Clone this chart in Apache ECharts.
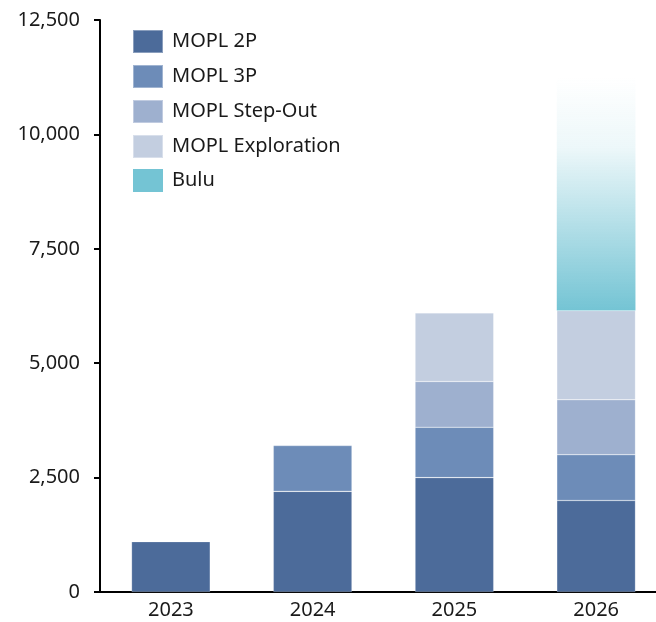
<!DOCTYPE html>
<html><head><meta charset="utf-8">
<script src="https://cdn.jsdelivr.net/npm/echarts@6/dist/echarts.min.js"></script>
<style>html,body{margin:0;padding:0;background:#fff}#c{width:656px;height:622px}</style>
</head><body><div id="c"></div>
<script>
const categories = ['2023', '2024', '2025', '2026'];
const mopl2P = [1100, 2200, 2500, 2000];
const mopl3P = [null, 1000, 1100, 1000];
const moplStepOut = [null, null, 1000, 1200];
const moplExploration = [null, null, 1500, 1950];
const bulu = [null, null, null, 5100];
const seriesNames = ['MOPL 2P', 'MOPL 3P', 'MOPL Step-Out', 'MOPL Exploration', 'Bulu'];

const colors = ['#4c6b9a', '#6d8cb8', '#9eb0cf', '#c3cee0', '#74c4d4'];
const font = 'Noto Sans';
const chart = echarts.init(document.getElementById('c'));
const dataSets = [mopl2P, mopl3P, moplStepOut, moplExploration, bulu];
const series = dataSets.map((d, i) => ({
  name: seriesNames[i],
  type: 'bar',
  stack: 'a',
  barWidth: '55.5%',
  data: d,
  itemStyle: {
    color: i === 4 ? new echarts.graphic.LinearGradient(0, 0, 0, 1, [
      {offset: 0, color: 'rgba(116,196,212,0)'},
      {offset: 0.3, color: 'rgba(116,196,212,0.13)'},
      {offset: 0.6, color: 'rgba(116,196,212,0.5)'},
      {offset: 1, color: 'rgba(116,196,212,1)'}
    ]) : colors[i],
    borderColor: 'rgba(255,255,255,0.35)',
    borderWidth: i === 4 ? 0 : 0.6
  }
}));
chart.setOption({
  animation: false,
  color: colors,
  textStyle: {fontFamily: font},
  legend: {
    orient: 'vertical', left: 132, top: 29, padding: 0,
    itemWidth: 30, itemHeight: 23, itemGap: 10,
    icon: 'rect',
    textStyle: {fontSize: 20, lineHeight: 23, color: '#1a1a1a', fontFamily: font, padding: [0,0,0,4]},
    data: seriesNames.map((n, i) => ({name: n, itemStyle: {color: colors[i]}}))
  },
  grid: {left: 100, width: 567, top: 20, bottom: 30, containLabel: false, outerBoundsMode: 'none'},
  xAxis: {
    type: 'category', data: categories,
    axisLine: {lineStyle: {color: '#000', width: 2}},
    axisTick: {show: false},
    axisLabel: {fontSize: 20, color: '#1a1a1a', margin: 8, fontFamily: font}
  },
  yAxis: {
    type: 'value', min: 0, max: 12500, interval: 2500,
    axisLine: {show: true, lineStyle: {color: '#000', width: 2}},
    axisTick: {show: true, length: 6, lineStyle: {color: '#000', width: 2}},
    splitLine: {show: false},
    axisLabel: {fontSize: 20, color: '#1a1a1a', margin: 20, fontFamily: font,
      formatter: v => v.toLocaleString('en-US')}
  },
  series: series
});
</script></body></html>
